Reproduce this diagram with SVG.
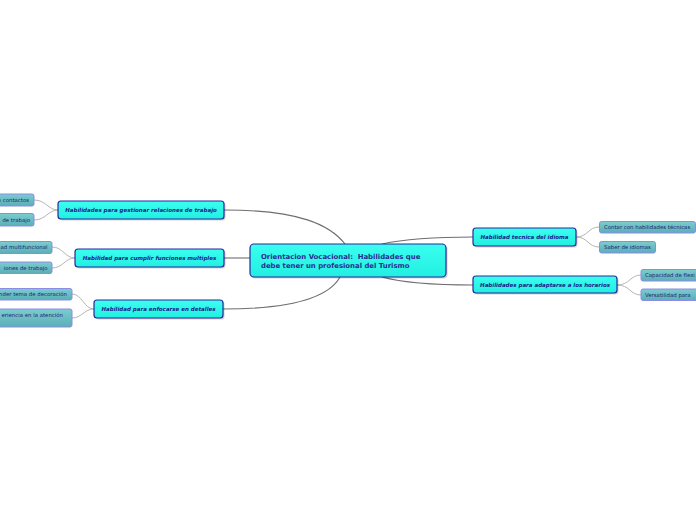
<svg xmlns="http://www.w3.org/2000/svg" width="696" height="520" viewBox="0 0 696 520">
<defs>
<linearGradient id="gMain" x1="0" y1="0" x2="0" y2="1"><stop offset="0" stop-color="#3afff0"/><stop offset="1" stop-color="#22efe0"/></linearGradient>
<linearGradient id="gLeaf" x1="0" y1="0" x2="0" y2="1"><stop offset="0" stop-color="#7cccd0"/><stop offset="1" stop-color="#5aaeb6"/></linearGradient>
<style>
.main{fill:url(#gMain);stroke:#2828a0;stroke-width:1.2}
.leaf{fill:url(#gLeaf);stroke:#8c8ce6;stroke-width:1}
.sh{fill:#000;opacity:0.18}
.ct{font-family:"DejaVu Sans",Verdana,sans-serif;font-weight:bold;font-size:6.9px;fill:#2a2a90;white-space:pre}
.mt{font-family:"DejaVu Sans",Verdana,sans-serif;font-weight:bold;font-style:italic;font-size:5.5px;fill:#1c1c8c}
.lt{font-family:"DejaVu Sans",Verdana,sans-serif;font-size:5.4px;fill:#1e1e70}
.c1{fill:none;stroke:#6e6e6e;stroke-width:1.1}
.c2{fill:none;stroke:#b4b4b4;stroke-width:1}
</style>
</defs>
<rect width="696" height="520" fill="#ffffff"/>
<g id="connectors">
<path class="c1" d="M224,210 C300,210 330,225 345,244"/>
<path class="c1" d="M224,258 L250,258"/>
<path class="c1" d="M223,309 C300,309 330,295 340,277"/>
<path class="c1" d="M382,244 C400,240 430,237 473,237"/>
<path class="c1" d="M382,277 C400,282 430,285 473,285"/>
<path class="c2" d="M58,210 C48,210 46,200 34,200"/>
<path class="c2" d="M58,210 C48,210 46,220 34,220"/>
<path class="c2" d="M75,258 C65,258 63,247 52,247"/>
<path class="c2" d="M75,258 C65,258 63,268 52,268"/>
<path class="c2" d="M94,309 C84,309 82,294 72,294"/>
<path class="c2" d="M94,309 C84,309 82,318 72,318"/>
<path class="c2" d="M576,237 C588,237 588,227 599,227"/>
<path class="c2" d="M576,237 C588,237 588,247 599,247"/>
<path class="c2" d="M617,285 C630,285 630,275 641,275"/>
<path class="c2" d="M617,285 C630,285 630,295 641,295"/>
</g>
<g id="central">
<rect class="sh" x="251.5" y="245.5" width="196" height="33" rx="4"/>
<rect class="main" x="250" y="244" width="196" height="33" rx="4"/>
<text class="ct" x="261" y="259" xml:space="preserve">Orientacion Vocacional:  Habilidades que</text>
<text class="ct" x="261" y="268">debe tener un profesional del Turismo</text>
</g>
<g id="n-relaciones">
<rect class="sh" x="59.5" y="202.5" width="166" height="18" rx="3"/>
<rect class="main" x="58" y="201" width="166" height="18" rx="3"/>
<text class="mt" x="141" y="212" text-anchor="middle">Habilidades para gestionar relaciones de trabajo</text>
</g>
<g id="n-funciones">
<rect class="sh" x="76.5" y="250.5" width="149" height="18" rx="3"/>
<rect class="main" x="75" y="249" width="149" height="18" rx="3"/>
<text class="mt" x="149.5" y="260" text-anchor="middle">Habilidad para cumplir funciones multiples</text>
</g>
<g id="n-detalles">
<rect class="sh" x="95.5" y="301.5" width="129" height="18" rx="3"/>
<rect class="main" x="94" y="300" width="129" height="18" rx="3"/>
<text class="mt" x="158.5" y="311" text-anchor="middle">Habilidad para enfocarse en detalles</text>
</g>
<g id="n-idioma">
<rect class="sh" x="474.5" y="229.5" width="103" height="18" rx="3"/>
<rect class="main" x="473" y="228" width="103" height="18" rx="3"/>
<text class="mt" x="524.5" y="239" text-anchor="middle">Habilidad tecnica del idioma</text>
</g>
<g id="n-horarios">
<rect class="sh" x="474.5" y="277.5" width="144" height="17" rx="3"/>
<rect class="main" x="473" y="276" width="144" height="17" rx="3"/>
<text class="mt" x="545" y="286.5" text-anchor="middle">Habilidades para adaptarse a los horarios</text>
</g>
<g id="l-contactos">
<rect class="leaf" x="-40" y="194" width="74" height="12" rx="2"/>
<text class="lt" x="29" y="201.8" text-anchor="end">n contactos</text>
</g>
<g id="l-trabajo1">
<rect class="leaf" x="-40" y="213.5" width="74" height="12.5" rx="2"/>
<text class="lt" x="30" y="221.6" text-anchor="end">de trabajo</text>
</g>
<g id="l-multifuncional">
<rect class="leaf" x="-40" y="241.5" width="92" height="12" rx="2"/>
<text class="lt" x="47.5" y="249.4" text-anchor="end">ad multifuncional</text>
</g>
<g id="l-trabajo2">
<rect class="leaf" x="-40" y="262" width="92" height="11.5" rx="2"/>
<text class="lt" x="47.5" y="269.7" text-anchor="end">iones de trabajo</text>
</g>
<g id="l-decoracion">
<rect class="leaf" x="-40" y="288.5" width="112" height="11.5" rx="2"/>
<text class="lt" x="67" y="296.3" text-anchor="end">nder tema de decoración</text>
</g>
<g id="l-atencion">
<rect class="leaf" x="-40" y="309" width="112" height="18" rx="2"/>
<text class="lt" x="63" y="316.9" text-anchor="end">eriencia en la atención</text>
</g>
<g id="l-tecnicas">
<rect class="leaf" x="599.5" y="221.5" width="96" height="11.5" rx="2"/>
<text class="lt" x="604" y="229.3">Contar con habilidades técnicas</text>
</g>
<g id="l-idiomas">
<rect class="leaf" x="599.5" y="241.5" width="56" height="11.5" rx="2"/>
<text class="lt" x="604" y="249.3">Saber de idiomas</text>
</g>
<g id="l-flexibilidad">
<rect class="leaf" x="641" y="269.5" width="80" height="11.5" rx="2"/>
<text class="lt" x="645" y="277.3">Capacidad de flexi</text>
</g>
<g id="l-versatilidad">
<rect class="leaf" x="641" y="289" width="80" height="11.5" rx="2"/>
<text class="lt" x="645" y="296.8">Versatilidad para</text>
</g>
</svg>
